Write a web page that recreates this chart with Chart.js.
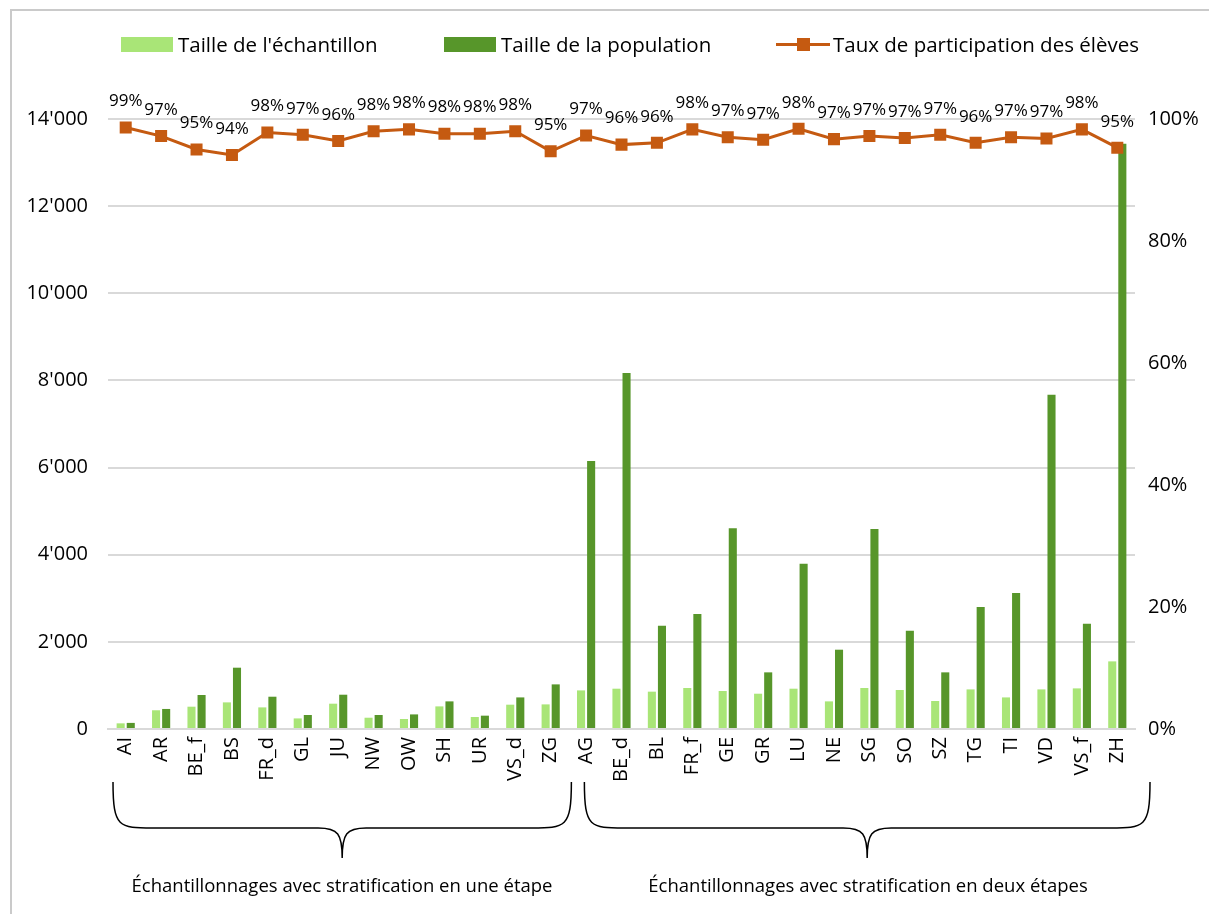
<!DOCTYPE html>
<html>
<head>
<meta charset="utf-8">
<script src="https://cdn.jsdelivr.net/npm/chart.js@4"></script>
<style>
  html, body { margin: 0; padding: 0; background: #fff; }
  #wrap { position: relative; width: 1209px; height: 914px; overflow: hidden; font-family: 'Open Sans', sans-serif; }
  #c { position: absolute; left: 0; top: 0; }
  .frame { position: absolute; left: 10px; top: 9px; width: 1400px; height: 1200px; border: 2px solid #cacaca; pointer-events: none; }
  .leg { position: absolute; top: 30px; height: 28px; display: flex; align-items: center; font-size: 20.5px; color: #000; white-space: nowrap; }
  .box { width: 52px; height: 15px; margin-right: 5px; }
  .lin { position: relative; width: 54px; height: 15px; margin-right: 3px; }
  .lin::before { content: ''; position: absolute; left: 0; right: 0; top: 6px; height: 3px; background: #C55A11; }
  .lin::after { content: ''; position: absolute; left: 21px; top: 1px; width: 13px; height: 13px; background: #C55A11; }
  .grp { position: absolute; top: 872px; font-size: 18.5px; color: #000; white-space: nowrap; transform: translateX(-50%); }
</style>
</head>
<body>
<div id="wrap">
  <canvas id="c" width="1209" height="914"></canvas>
  <div class="frame"></div>
  <div class="leg" style="left:121px"><div class="box" style="background:#A9E577"></div>Taille de l'échantillon</div>
  <div class="leg" style="left:444px"><div class="box" style="background:#57962A"></div>Taille de la population</div>
  <div class="leg" style="left:776px"><div class="lin"></div>Taux de participation des élèves</div>
  <div class="grp" style="left:342px">Échantillonnages avec stratification en une étape</div>
  <div class="grp" style="left:868px">Échantillonnages avec stratification en deux étapes</div>
</div>
<script>
const categories = ['AI','AR','BE_f','BS','FR_d','GL','JU','NW','OW','SH','UR','VS_d','ZG',
  'AG','BE_d','BL','FR_f','GE','GR','LU','NE','SG','SO','SZ','TG','TI','VD','VS_f','ZH'];
const sampleSize = [130, 430, 512, 611, 496, 243, 581, 259, 230, 519, 275, 558, 565,
  886, 925, 857, 941, 872, 810, 925, 634, 941, 895, 643, 909, 725, 909, 932, 1552];
const populationSize = [140, 460, 780, 1407, 741, 321, 787, 321, 335, 634, 306, 725, 1024,
  6150, 8170, 2371, 2640, 4610, 1300, 3790, 1820, 4590, 2257, 1300, 2800, 3120, 7670, 2417, 13430];
const participationRate = [98.6, 97.2, 95.0, 94.1, 97.8, 97.4, 96.4, 98.0, 98.3, 97.6, 97.6, 98.0, 94.7,
  97.3, 95.8, 96.1, 98.3, 97.0, 96.6, 98.4, 96.7, 97.2, 96.9, 97.4, 96.1, 97.0, 96.8, 98.3, 95.3];
const leftTicks = [0, 2000, 4000, 6000, 8000, 10000, 12000, 14000];
const rightTicks = [0, 20, 40, 60, 80, 100];
const groupSplit = 13; // first 13 categories: one-stage stratification

Chart.defaults.font.family = "'Open Sans', sans-serif";
Chart.defaults.color = '#000';

const fmtThousands = v => String(v).replace(/\B(?=(\d{3})+(?!\d))/g, "'");

const overlay = {
  id: 'overlay',
  afterDatasetsDraw(chart) {
    const ctx = chart.ctx;
    const meta = chart.getDatasetMeta(0);
    ctx.save();
    ctx.font = "17px 'Open Sans', sans-serif";
    ctx.fillStyle = '#000';
    ctx.textAlign = 'center';
    ctx.textBaseline = 'middle';
    meta.data.forEach((p, i) => {
      ctx.fillText(Math.round(participationRate[i]) + '%', p.x, p.y - 26);
    });
    ctx.restore();
  },
  afterDraw(chart) {
    const ctx = chart.ctx;
    const xs = chart.scales.x;
    const step = xs.getPixelForValue(1) - xs.getPixelForValue(0);
    const left = xs.getPixelForValue(0) - step / 2;
    const split = xs.getPixelForValue(groupSplit - 1) + step / 2;
    const right = xs.getPixelForValue(categories.length - 1) + step / 2;
    const yTop = 782, yMid = 828, yBot = 858;
    function brace(x0, x1) {
      const xc = (x0 + x1) / 2;
      const r = 40, r2 = 24;
      ctx.beginPath();
      ctx.moveTo(x0, yTop);
      ctx.bezierCurveTo(x0, yMid, x0 + 6, yMid, x0 + r, yMid);
      ctx.lineTo(xc - r2, yMid);
      ctx.bezierCurveTo(xc - 4, yMid, xc, yMid + 6, xc, yBot);
      ctx.bezierCurveTo(xc, yMid + 6, xc + 4, yMid, xc + r2, yMid);
      ctx.lineTo(x1 - r, yMid);
      ctx.bezierCurveTo(x1 - 6, yMid, x1, yMid, x1, yTop);
      ctx.stroke();
    }
    ctx.save();
    ctx.strokeStyle = '#000';
    ctx.lineWidth = 1.5;
    brace(left + 5, split + 3);
    brace(split + 16, right + 15);
    ctx.restore();
  }
};

new Chart(document.getElementById('c'), {
  data: {
    labels: categories,
    datasets: [
      {
        type: 'line', label: 'Taux de participation des élèves', data: participationRate,
        yAxisID: 'y1', order: 0,
        borderColor: '#C55A11', backgroundColor: '#C55A11', borderWidth: 3,
        pointStyle: 'rect', pointRadius: 8.5, pointBorderWidth: 0, tension: 0
      },
      {
        type: 'bar', label: "Taille de l'échantillon", data: sampleSize, yAxisID: 'y', order: 1,
        backgroundColor: '#A9E577', barPercentage: 0.8, categoryPercentage: 0.57
      },
      {
        type: 'bar', label: 'Taille de la population', data: populationSize, yAxisID: 'y', order: 2,
        backgroundColor: '#57962A', barPercentage: 0.8, categoryPercentage: 0.57
      }
    ]
  },
  options: {
    responsive: false,
    animation: false,
    devicePixelRatio: 1,
    layout: { padding: { left: 10, right: 0, top: 119, bottom: 0 } },
    plugins: { legend: { display: false }, tooltip: { enabled: false } },
    scales: {
      x: {
        type: 'category', offset: true,
        grid: { display: false, drawTicks: false },
        border: { display: true, color: '#d9d9d9', width: 2 },
        ticks: { minRotation: 90, maxRotation: 90, autoSkip: false, padding: 8, font: { size: 20 }, color: '#000' },
        afterFit(s) { s.height = 185; }
      },
      y: {
        position: 'left', min: 0, max: 14000,
        afterBuildTicks(s) { s.ticks = leftTicks.map(v => ({ value: v })); },
        grid: { color: '#d9d9d9', lineWidth: 2, drawTicks: false },
        border: { display: false },
        ticks: { padding: 20, font: { size: 20 }, color: '#000', callback: v => fmtThousands(v) },
        afterFit(s) { s.width = 98; }
      },
      y1: {
        position: 'right', min: 0, max: 100,
        afterBuildTicks(s) { s.ticks = rightTicks.map(v => ({ value: v })); },
        grid: { display: false, drawTicks: false },
        border: { display: false },
        ticks: { padding: 13, font: { size: 20 }, color: '#000', callback: v => v + '%' },
        afterFit(s) { s.width = 74; }
      }
    }
  },
  plugins: [overlay]
});
</script>
</body>
</html>
